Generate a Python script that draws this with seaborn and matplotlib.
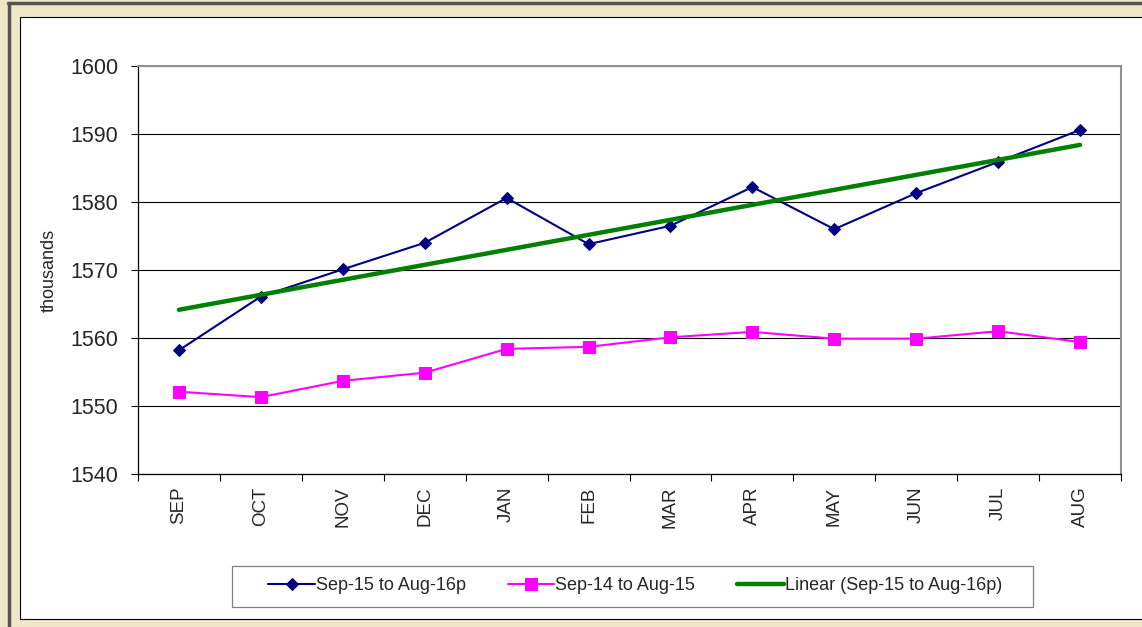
import numpy as np
import pandas as pd
import matplotlib
matplotlib.use("Agg")
import matplotlib.pyplot as plt
import seaborn as sns
from matplotlib.patches import Rectangle
from matplotlib.lines import Line2D
from matplotlib.ticker import FixedLocator, NullFormatter

# --- data ---
months = ["SEP", "OCT", "NOV", "DEC", "JAN", "FEB",
          "MAR", "APR", "MAY", "JUN", "JUL", "AUG"]
sep15_aug16 = [1558.2, 1566.1, 1570.1, 1574.0, 1580.6, 1573.8,
               1576.5, 1582.2, 1576.0, 1581.3, 1585.9, 1590.6]
sep14_aug15 = [1552.1, 1551.3, 1553.7, 1554.9, 1558.4, 1558.7,
               1560.1, 1560.9, 1559.9, 1559.9, 1561.0, 1559.4]
y_ticks = [1540, 1550, 1560, 1570, 1580, 1590, 1600]

label_a = "Sep-15 to Aug-16p"
label_b = "Sep-14 to Aug-15"
label_trend = "Linear (Sep-15 to Aug-16p)"

df = pd.DataFrame({"pos": np.arange(len(months)), "month": months,
                   "a": sep15_aug16, "b": sep14_aug15})
# excel-style linear trendline through the first series
slope, icpt = np.polyfit(df["pos"], df["a"], 1)
df["trend"] = icpt + slope * df["pos"]

sns.set_theme(style="white")
plt.rcParams["font.family"] = ["Liberation Sans", "DejaVu Sans"]

W, H = 1142, 627
fig = plt.figure(figsize=(W / 100, H / 100), dpi=100, facecolor="#EEE8C8")
tf = fig.transFigure

# white chart area with thin black frame, dark outer edge on top/left
fig.patches.append(Rectangle((20 / W, 1 - 619 / H), 1.2, (619 - 17) / H,
                             transform=tf, facecolor="white",
                             edgecolor="black", lw=0.8, zorder=-10))
fig.lines.append(Line2D([8 / W, 1.0], [1 - 2.5 / H, 1 - 2.5 / H],
                        transform=tf, color="#555555", lw=2.5))
fig.lines.append(Line2D([9 / W, 9 / W], [0.0, 1 - 2.5 / H],
                        transform=tf, color="#555555", lw=2.5))
# legend box
fig.patches.append(Rectangle((232 / W, 1 - 607 / H), (1033 - 232) / W,
                             (607 - 566) / H, transform=tf,
                             facecolor="white", edgecolor="#808080",
                             lw=0.9, zorder=-5))

ax = fig.add_axes([138 / W, 1 - 474 / H, (1121 - 138) / W, (474 - 66) / H])
ax.set_facecolor("white")

sns.lineplot(data=df, x="pos", y="a", ax=ax, color="#000080", lw=1.5,
             marker="D", markersize=6, markeredgecolor="#000080",
             label=label_a, zorder=3)
sns.lineplot(data=df, x="pos", y="b", ax=ax, color="#FF00FF", lw=1.5,
             marker="s", markersize=9, markeredgecolor="#FF00FF",
             label=label_b, zorder=3)
sns.lineplot(data=df, x="pos", y="trend", ax=ax, color="#008000", lw=3.2,
             label=label_trend, zorder=4)

ax.set_xlim(-0.5, len(months) - 0.5)
ax.set_ylim(y_ticks[0], y_ticks[-1])
ax.set_yticks(y_ticks)
ax.yaxis.grid(True, color="black", lw=0.8)
ax.xaxis.grid(False)

# month labels centred, tick marks on the category boundaries
ax.set_xticks(df["pos"])
ax.set_xticklabels(months, rotation=90, fontsize=13.5)
ax.xaxis.set_minor_locator(FixedLocator(np.arange(-0.5, len(months), 1.0)))
ax.xaxis.set_minor_formatter(NullFormatter())
ax.tick_params(axis="x", which="major", length=0, pad=9)
ax.tick_params(axis="x", which="minor", length=5, width=0.8,
               color="black", bottom=True)
ax.tick_params(axis="y", length=5, width=0.8, color="black", pad=9,
               labelsize=15.5, left=True)

ax.set_xlabel("")
ax.set_ylabel("thousands", fontsize=13)
ax.yaxis.set_label_coords(-0.082, 0.5)

for side in ["left", "bottom"]:
    ax.spines[side].set_color("black")
    ax.spines[side].set_linewidth(0.9)
for side in ["top", "right"]:
    ax.spines[side].set_color("#909090")
    ax.spines[side].set_linewidth(1.5)

ax.legend(loc="center", ncol=3, fontsize=13, frameon=False,
          handlelength=2.6, handletextpad=0.05, columnspacing=2.3,
          bbox_to_anchor=(635 / W, 1 - 586 / H), bbox_transform=tf)

fig.savefig("out.png", dpi=100, facecolor=fig.get_facecolor())
